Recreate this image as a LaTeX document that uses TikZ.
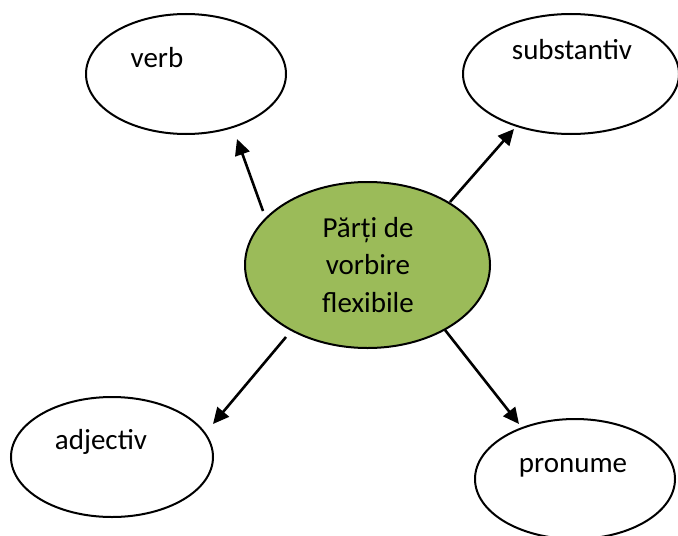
\documentclass[tikz,border=0pt]{standalone}
\usepackage{fontspec}
\setmainfont{Carlito}
\usetikzlibrary{shapes.geometric,arrows.meta}
\definecolor{olivefill}{HTML}{9BBB59}
\begin{document}
\begin{tikzpicture}[x=0.5pt,y=-0.5pt,
  bubble/.style={ellipse,draw=black,line width=1pt,inner sep=0pt,fill=white},
  word/.style={font=\fontsize{14.5}{18.75}\selectfont,inner sep=0pt,anchor=base},
  link/.style={line width=1.3pt,-{Triangle[length=8pt,width=7.5pt]}}]
\useasboundingbox (0,0) rectangle (678,535);
% bubbles
\node[bubble,minimum width=100pt,minimum height=60pt] (verb) at (186,74) {};
\node[bubble,minimum width=108pt,minimum height=60pt] (subst) at (571,74) {};
\node[bubble,fill=olivefill,minimum width=122.5pt,minimum height=83pt] (center) at (367.5,265) {};
\node[bubble,minimum width=101pt,minimum height=60pt] (adj) at (112,457) {};
\node[bubble,minimum width=100pt,minimum height=60pt] (pron) at (575,479) {};
% texts
\node[word] (verbt) at (157,68) {verb};
\node[word] (substt) at (572,60) {substantiv};
\node[word,align=center] (centert) at (368,312) {Părți de\\vorbire\\flexibile};
\node[word] (adjt) at (101,449) {adjectiv};
\node[word] (pront) at (573,472) {pronume};
% arrow ends
\coordinate (a1s) at (263,211); \coordinate (a1e) at (237,139);
\coordinate (a2s) at (450,202); \coordinate (a2e) at (514,129);
\coordinate (a3s) at (286,337); \coordinate (a3e) at (213,424);
\coordinate (a4s) at (445,330); \coordinate (a4e) at (519,424);
\draw[link] (a1s) -- (a1e);
\draw[link] (a2s) -- (a2e);
\draw[link] (a3s) -- (a3e);
\draw[link] (a4s) -- (a4e);
\end{tikzpicture}
\end{document}
